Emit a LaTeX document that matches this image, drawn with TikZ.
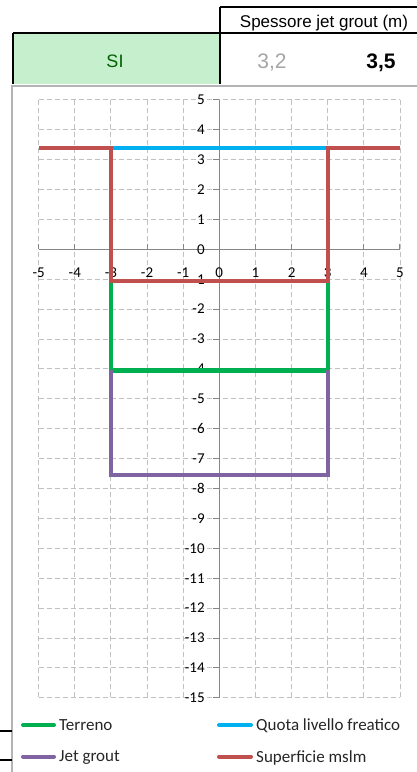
\documentclass[tikz,border=0pt]{standalone}
\usepackage{fontspec}
\setmainfont{Liberation Sans}
\newfontfamily\calibri{Carlito}
\usepackage{tikz}
\usetikzlibrary{positioning}
\definecolor{terrenocol}{HTML}{00B050}
\definecolor{falda}{HTML}{00B0F0}
\definecolor{jetcol}{HTML}{8064A2}
\definecolor{supcol}{HTML}{C0504D}
\definecolor{cellgreen}{HTML}{C6EFCE}
\definecolor{textgreen}{HTML}{006100}
\definecolor{gridgray}{HTML}{C0C0C0}
\definecolor{axisgray}{HTML}{868686}
\definecolor{framegray}{HTML}{B4B4B4}

\begin{document}
\begin{tikzpicture}[
  x=1pt, y=1pt,
  hdr/.style={inner sep=0pt, anchor=base, font=\fontsize{17}{17}\selectfont},
  val/.style={inner sep=0pt, anchor=base, font=\fontsize{21}{21}\selectfont},
  border/.style={line width=1.6pt, draw=black},
  gridline/.style={draw=gridgray, line width=0.9pt, dash pattern=on 5pt off 3pt},
  axisline/.style={draw=axisgray, line width=1pt},
  ticklab/.style={inner sep=0pt, font=\calibri\fontsize{15}{15}\selectfont},
  serie/.style={line width=4.2pt},
  legline/.style={line width=4pt, line cap=round},
  legtext/.style={inner sep=0pt, text depth=0pt, font=\calibri\fontsize{17}{17}\selectfont, text=black!85}
]
\useasboundingbox (0,0) rectangle (417,-772);
\fill[white] (0,0) rectangle (417,-772);

% header table
\fill[cellgreen] (13,-33) rectangle (220,-84);
\draw[border] (220,-7) -- (417,-7);
\draw[border] (13,-33) -- (417,-33);
\draw[border] (220,-7) -- (220,-84);
\draw[border] (13,-33) -- (13,-84);
\node[hdr] (spessore) at (324,-27.5) {Spessore jet grout (m)};
\node[hdr, text=textgreen, font=\fontsize{18}{18}\selectfont] (si) at (115,-67) {SI};
\node[val, text=black!35] (v32) at (272,-68) {3,2};
\node[val, font=\bfseries\fontsize{21}{21}\selectfont] (v35) at (381,-68) {3,5};

% chart area
\draw[framegray, line width=1.5pt] (12,-772) -- (12,-86) -- (417,-86);
\draw[border] (0,-731) -- (12,-731);
\draw[border] (0,-760) -- (12,-760);

\begin{scope}[shift={(219.3,-249.3)}, x=36.13pt, y=29.9pt]
  % grid
  \foreach \gx in {-5,...,5}
    \draw[gridline] (\gx,5) -- (\gx,-15);
  \foreach \gy in {-15,...,5}
    \draw[gridline] (-5,\gy) -- (5,\gy);
  % axes
  \draw[axisline] (-5,0) -- (5,0);
  \draw[axisline] (0,5) -- (0,-15);
  \foreach \gx in {-5,...,5} {
    \draw[axisline] (\gx,0) -- ++(0,5pt);
    \node[ticklab] (xlab\gx) at (\gx,-0.79) {\gx};
  }
  \foreach \gy in {-15,...,5} {
    \draw[axisline] (0,\gy) -- ++(-6pt,0);
    \node[ticklab, anchor=east] (ylab\gy) at (-0.4,\gy) {\gy};
  }
  % series
  \draw[serie, terrenocol] (-3,-1.05) -- (-3,-4.05) -- (3,-4.05) -- (3,-1.05);
  \draw[serie, falda] (-3,3.4) -- (3,3.4);
  \draw[serie, jetcol] (-3,-4.05) -- (-3,-7.55) -- (3,-7.55) -- (3,-4.05);
  \draw[serie, supcol] (-5,3.4) -- (-3,3.4) -- (-3,-1.05) -- (3,-1.05) -- (3,3.4) -- (5,3.4);
\end{scope}

% legend
\coordinate (terrA) at (23,-725);
\coordinate (terrB) at (54,-725);
\coordinate (quotaA) at (219,-725);
\coordinate (quotaB) at (251,-725);
\coordinate (jetA) at (23,-756.5);
\coordinate (jetB) at (54,-756.5);
\coordinate (supA) at (219,-756.5);
\coordinate (supB) at (251,-756.5);
\draw[legline, terrenocol] (terrA) -- (terrB);
\draw[legline, falda] (quotaA) -- (quotaB);
\draw[legline, jetcol] (jetA) -- (jetB);
\draw[legline, supcol] (supA) -- (supB);
\node[legtext, right=5pt of terrB] (terr) {Terreno};
\node[legtext, right=5pt of quotaB] (quota) {Quota livello freatico};
\node[legtext, right=5pt of jetB] (jet) {Jet grout};
\node[legtext, right=5pt of supB] (sup) {Superficie mslm};
\end{tikzpicture}
\end{document}
